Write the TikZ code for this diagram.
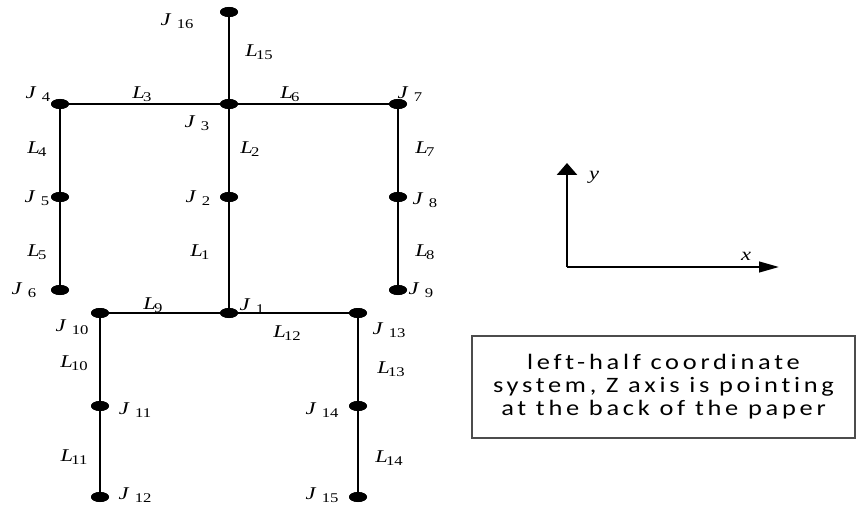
\documentclass[tikz,border=0pt]{standalone}
\usepackage{fontspec}
\setmainfont[FakeStretch=1.25]{Liberation Serif}
\newfontfamily\boxfont[FakeStretch=1.2,LetterSpace=17,Ligatures=NoCommon]{Carlito}
\usepackage{tikz}
\usetikzlibrary{arrows.meta,shapes.geometric}
\newcommand\jlab[1]{\textit{J}\kern.3em\raisebox{-.4ex}{\fontsize{10}{11}\selectfont #1}}
\newcommand\llab[1]{\textit{L}\kern-.1em\raisebox{-.4ex}{\fontsize{10}{11}\selectfont #1}}
\tikzset{
  jt/.style={ellipse,fill=black,draw=none,minimum width=13.5pt,minimum height=7.5pt,inner sep=0pt},
  bone/.style={draw=black,line width=2.2pt},
  arm/.style={draw=black,line width=1.5pt},
  lb/.style={font=\fontsize{13.5}{15}\selectfont,inner sep=0pt},
  axh/.style={-{Triangle[length=15pt,width=8pt]},line width=1.6pt},
  axv/.style={-{Triangle[length=9pt,width=15pt]},line width=2.2pt},
  note/.style={draw=black!70,line width=1.1pt,minimum width=287pt,minimum height=76.5pt,
    align=center,inner sep=0pt,font=\boxfont\fontsize{16.5}{17.3}\selectfont},
}
\begin{document}
\begin{tikzpicture}[x=0.75pt,y=-0.75pt]
\useasboundingbox (0,0) rectangle (857,506);
% ============================= skeleton
\node[jt] (j16) at (229,12) {};
\node[jt] (j3) at (229,104) {};
\node[jt] (j4) at (60,104) {};
\node[jt] (j7) at (398,104) {};
\node[jt] (j2) at (229,197) {};
\node[jt] (j5) at (60,197) {};
\node[jt] (j8) at (398,197) {};
\node[jt] (j6) at (60,290) {};
\node[jt] (j9) at (398,290) {};
\node[jt] (j1) at (229,313) {};
\node[jt] (j10) at (100,313) {};
\node[jt] (j13) at (358,313) {};
\node[jt] (j11) at (100,406) {};
\node[jt] (j14) at (358,406) {};
\node[jt] (j12) at (100,497) {};
\node[jt] (j15) at (358,497) {};
\draw[arm] (j4.center)--(j3.center)--(j7.center);
\draw[arm] (j10.center)--(j1.center)--(j13.center);
\draw[bone] (j16.center)--(j3.center)--(j2.center)--(j1.center);
\draw[bone] (j4.center)--(j5.center)--(j6.center);
\draw[bone] (j7.center)--(j8.center)--(j9.center);
\draw[bone] (j10.center)--(j11.center)--(j12.center);
\draw[bone] (j13.center)--(j14.center)--(j15.center);
\foreach \n in {1,...,16} \node[jt] at (j\n) {};
% ============================= labels
\node[lb] at (177,21) {\jlab{16}};
\node[lb] at (259,52) {\llab{15}};
\node[lb] at (38,94) {\jlab{4}};
\node[lb] at (142,94) {\llab{3}};
\node[lb] at (290,94) {\llab{6}};
\node[lb] at (410,94) {\jlab{7}};
\node[lb] at (197,123) {\jlab{3}};
\node[lb] at (37,149) {\llab{4}};
\node[lb] at (250,149) {\llab{2}};
\node[lb] at (425,149) {\llab{7}};
\node[lb] at (37,198) {\jlab{5}};
\node[lb] at (198,198) {\jlab{2}};
\node[lb] at (425,200) {\jlab{8}};
\node[lb] at (37,252) {\llab{5}};
\node[lb] at (200,252) {\llab{1}};
\node[lb] at (425,252) {\llab{8}};
\node[lb] at (24,290) {\jlab{6}};
\node[lb] at (421,290) {\jlab{9}};
\node[lb] at (153,305) {\llab{9}};
\node[lb] at (252,306) {\jlab{1}};
\node[lb] at (72,327) {\jlab{10}};
\node[lb] at (287,333) {\llab{12}};
\node[lb] at (389,330) {\jlab{13}};
\node[lb] at (74,363) {\llab{10}};
\node[lb] at (391,369) {\llab{13}};
\node[lb] at (135,410) {\jlab{11}};
\node[lb] at (322,410) {\jlab{14}};
\node[lb] at (74,457) {\llab{11}};
\node[lb] at (389,458) {\llab{14}};
\node[lb] at (135,495) {\jlab{12}};
\node[lb] at (322,495) {\jlab{15}};
% ============================= axes
\coordinate (o) at (567,267);
\coordinate (ay) at (567,163);
\coordinate (axx) at (779,267);
\draw[axv] (o)--(ay);
\draw[axh] (o)--(axx);
\node[lb] (ly) at (594,177) {\textit{y}};
\node[lb] (lx) at (746,256) {\textit{x}};
% ============================= note
\node[note] (nt) at (663.5,387) {left-half coordinate\\system, Z axis is pointing\\at the back of the paper};
\end{tikzpicture}
\end{document}
